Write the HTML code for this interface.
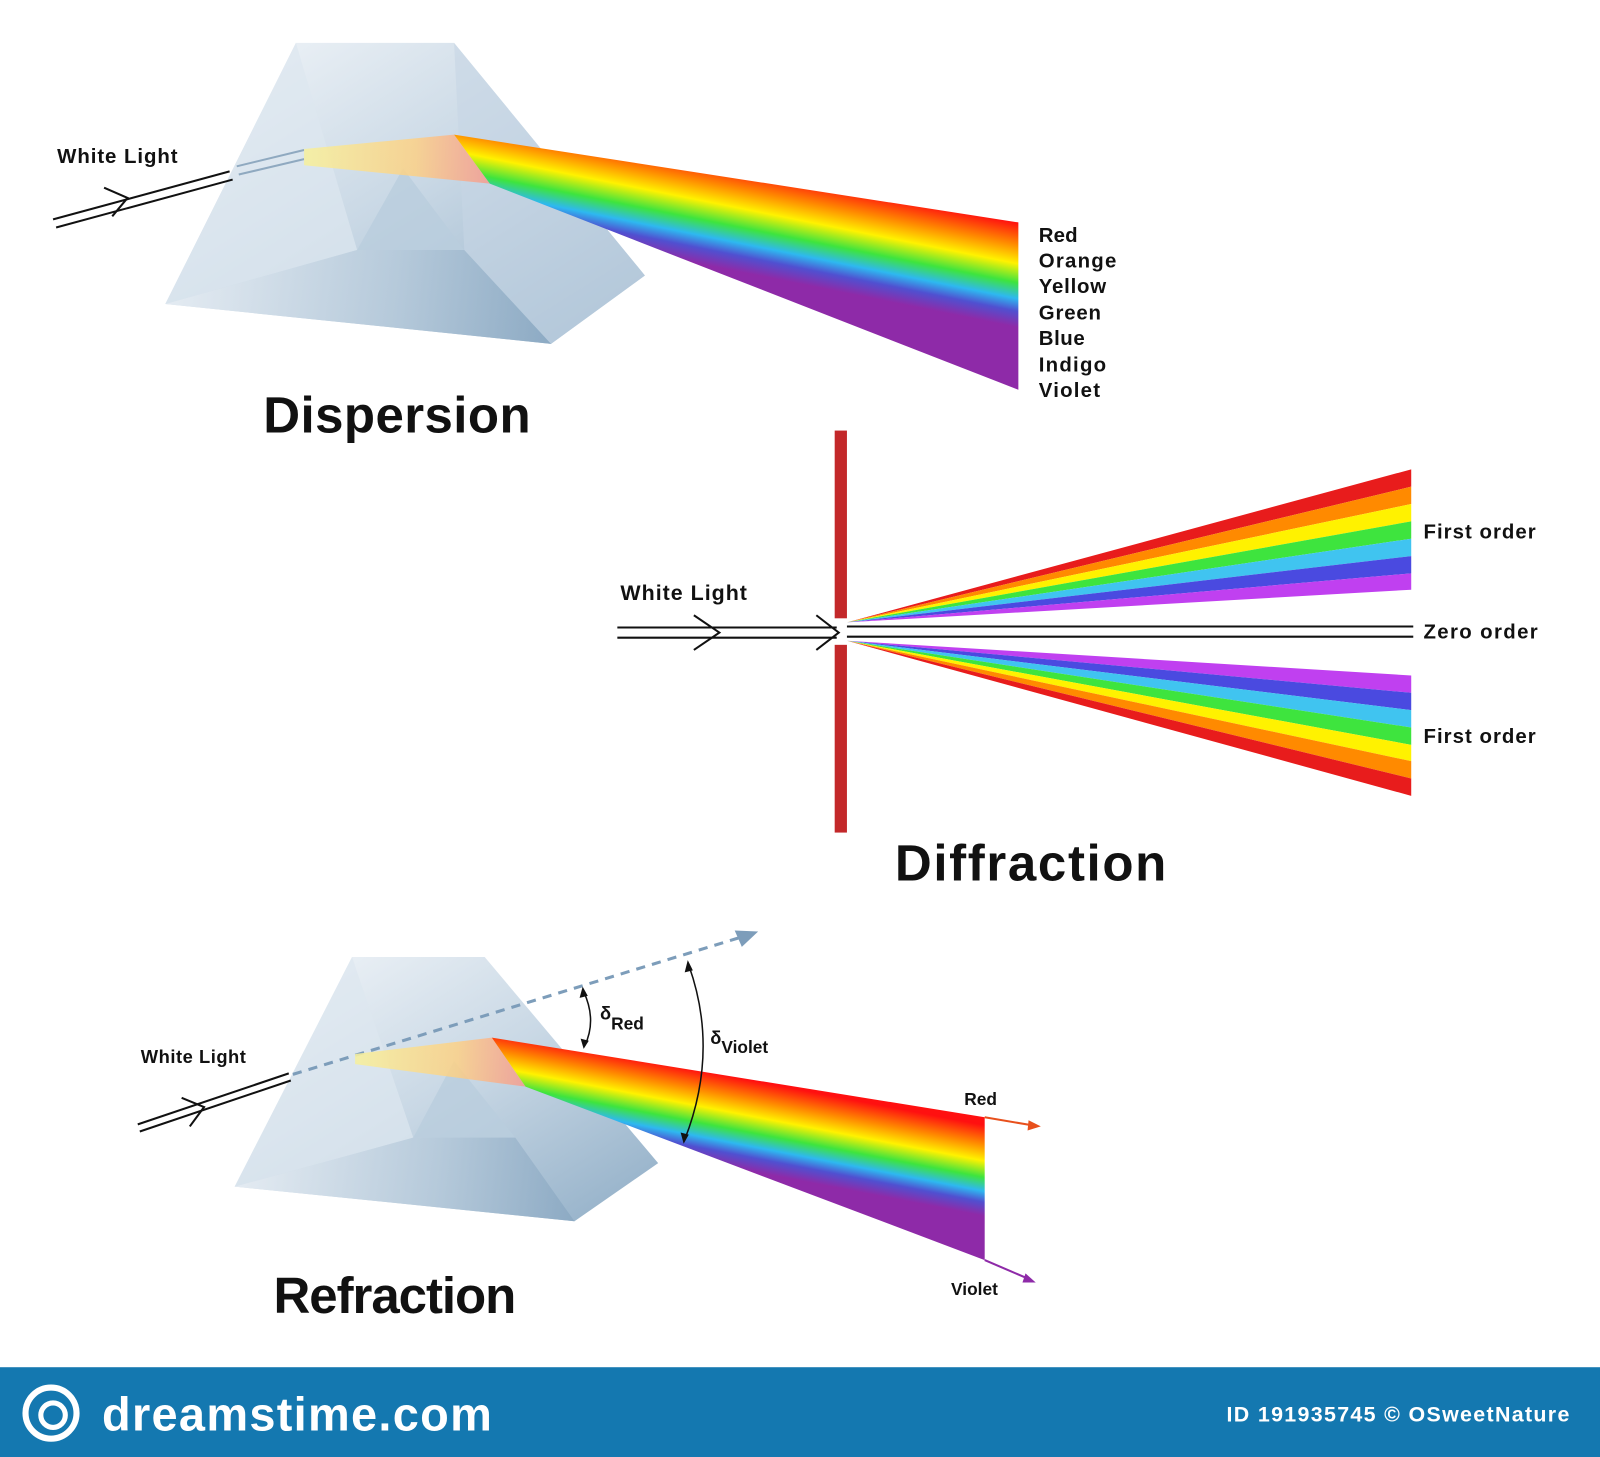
<!DOCTYPE html>
<html><head><meta charset="utf-8"><style>
html,body{margin:0;padding:0;background:#fff;width:1600px;height:1457px;overflow:hidden}
svg{display:block}
text{font-family:"Liberation Sans",sans-serif;font-weight:bold;fill:#111}
</style></head><body>
<svg width="1600" height="1457" viewBox="0 0 1568 1428" preserveAspectRatio="none" xmlns="http://www.w3.org/2000/svg">
<defs>
<linearGradient id="pr" x1="0" y1="0" x2="1" y2="1">
<stop offset="0" stop-color="#f4f7fa"/><stop offset="0.5" stop-color="#c9d8e5"/><stop offset="1" stop-color="#8fadc6"/>
</linearGradient>
<linearGradient id="pr2" x1="0" y1="0" x2="1" y2="0">
<stop offset="0" stop-color="#e8eef4"/><stop offset="0.6" stop-color="#b5c9da"/><stop offset="1" stop-color="#8aa8c2"/>
</linearGradient>
<linearGradient id="rb1" gradientUnits="userSpaceOnUse" x1="720" y1="150" x2="690" y2="300">
<stop offset="0.08" stop-color="#ff1010"/><stop offset="0.22" stop-color="#ff8a00"/><stop offset="0.34" stop-color="#fff200"/>
<stop offset="0.46" stop-color="#3ee43e"/><stop offset="0.56" stop-color="#2eb8f0"/><stop offset="0.64" stop-color="#5050d0"/><stop offset="0.74" stop-color="#8e2aa8"/><stop offset="1" stop-color="#8e2aa8"/>
</linearGradient>
<linearGradient id="rb3" gradientUnits="userSpaceOnUse" x1="720" y1="1045" x2="695" y2="1175">
<stop offset="0.08" stop-color="#ff1010"/><stop offset="0.22" stop-color="#ff8a00"/><stop offset="0.34" stop-color="#fff200"/>
<stop offset="0.46" stop-color="#3ee43e"/><stop offset="0.56" stop-color="#2eb8f0"/><stop offset="0.64" stop-color="#5050d0"/><stop offset="0.74" stop-color="#8e2aa8"/><stop offset="1" stop-color="#8e2aa8"/>
</linearGradient>
<linearGradient id="wb" x1="0" y1="0" x2="1" y2="0">
<stop offset="0" stop-color="#f5f0a0" stop-opacity="0.9"/><stop offset="0.6" stop-color="#ffd080" stop-opacity="0.8"/><stop offset="1" stop-color="#ff9080" stop-opacity="0.7"/>
</linearGradient>
</defs>

<polygon points="162,298 290,42 445,42 632,270 540,337" fill="url(#pr)"/>
<polygon points="162,298 290,42 350,245" fill="#dde7ef" opacity="0.7"/>
<polygon points="350,245 395,165 455,245" fill="#b9cddd" opacity="0.8"/>
<polygon points="350,245 455,245 540,337 162,298" fill="url(#pr2)" opacity="0.85"/>
<polygon points="445,42 632,270 540,337 455,245" fill="#c6d6e4" opacity="0.6"/>
<line x1="52" y1="215" x2="225" y2="168" stroke="#111" stroke-width="2"/>
<line x1="55" y1="223" x2="228" y2="176" stroke="#111" stroke-width="2"/>
<polyline points="102,184 125,194 110,212" fill="none" stroke="#111" stroke-width="2"/>
<line x1="232" y1="163" x2="298" y2="147" stroke="#8fa9c0" stroke-width="2"/>
<line x1="234" y1="171" x2="298" y2="156" stroke="#8fa9c0" stroke-width="2"/>
<polygon points="298,146 445,132 480,180 298,162" fill="url(#wb)"/>
<polygon points="445,132 998,218 998,382 480,180" fill="url(#rb1)"/>
<g font-size="20">
<text x="1018" y="237" textLength="38">Red</text><text x="1018" y="262" textLength="76">Orange</text><text x="1018" y="287" textLength="66">Yellow</text>
<text x="1018" y="313" textLength="61">Green</text><text x="1018" y="338" textLength="45">Blue</text><text x="1018" y="364" textLength="66">Indigo</text><text x="1018" y="389" textLength="60">Violet</text>
</g>
<text x="56" y="160" font-size="20" textLength="118">White Light</text>
<text x="258" y="424" font-size="50" textLength="262">Dispersion</text>

<g>
<polygon points="830,610 1383,460 1383,477 " fill="#e81c1c"/>
<polygon points="830,610 1383,477 1383,494" fill="#ff8a00"/>
<polygon points="830,610 1383,494 1383,511" fill="#fff200"/>
<polygon points="830,610 1383,511 1383,528" fill="#3ee43e"/>
<polygon points="830,610 1383,528 1383,545" fill="#40c4f0"/>
<polygon points="830,610 1383,545 1383,562" fill="#4a4ae0"/>
<polygon points="830,610 1383,562 1383,578" fill="#c040f0"/>
<polygon points="830,628 1383,662 1383,679" fill="#c040f0"/>
<polygon points="830,628 1383,679 1383,696" fill="#4a4ae0"/>
<polygon points="830,628 1383,696 1383,713" fill="#40c4f0"/>
<polygon points="830,628 1383,713 1383,730" fill="#3ee43e"/>
<polygon points="830,628 1383,730 1383,746" fill="#fff200"/>
<polygon points="830,628 1383,746 1383,763" fill="#ff8a00"/>
<polygon points="830,628 1383,763 1383,780" fill="#e81c1c"/>
</g>
<rect x="818" y="422" width="12" height="184" fill="#c3282a"/>
<rect x="818" y="632" width="12" height="184" fill="#c3282a"/>
<line x1="605" y1="615" x2="820" y2="615" stroke="#111" stroke-width="2"/>
<line x1="605" y1="625" x2="820" y2="625" stroke="#111" stroke-width="2"/>
<polyline points="680,603 705,620 680,637" fill="none" stroke="#111" stroke-width="2"/>
<polyline points="800,603 822,620 800,637" fill="none" stroke="#111" stroke-width="2"/>
<line x1="830" y1="614" x2="1385" y2="614" stroke="#111" stroke-width="2"/>
<line x1="830" y1="624" x2="1385" y2="624" stroke="#111" stroke-width="2"/>
<text x="608" y="588" font-size="21" textLength="124">White Light</text>
<g font-size="20">
<text x="1395" y="528" textLength="110">First order</text><text x="1395" y="626" textLength="112">Zero order</text><text x="1395" y="728" textLength="110">First order</text>
</g>
<text x="877" y="863" font-size="50" textLength="266">Diffraction</text>

<polygon points="230,1163 345,938 475,938 645,1140 563,1197" fill="url(#pr)"/>
<polygon points="230,1163 345,938 405,1115" fill="#dde7ef" opacity="0.7"/>
<polygon points="405,1115 445,1040 505,1115" fill="#b9cddd" opacity="0.8"/>
<polygon points="405,1115 505,1115 563,1197 230,1163" fill="url(#pr2)" opacity="0.85"/>
<line x1="135" y1="1102" x2="283" y2="1052" stroke="#111" stroke-width="2"/>
<line x1="137" y1="1109" x2="285" y2="1059" stroke="#111" stroke-width="2"/>
<polyline points="178,1076 200,1085 186,1104" fill="none" stroke="#111" stroke-width="2"/>
<line x1="287" y1="1053" x2="728" y2="918" stroke="#7d9dba" stroke-width="3" stroke-dasharray="9,7"/>
<polygon points="743,913 720,912 727,928" fill="#7d9dba"/>
<polygon points="348,1033 482,1017 515,1065 348,1043" fill="url(#wb)"/>
<polygon points="482,1017 965,1095 965,1235 515,1065" fill="url(#rb3)"/>
<line x1="965" y1="1095" x2="1012" y2="1103" stroke="#e8501c" stroke-width="2"/>
<polygon points="1020,1104 1008,1098 1007,1108" fill="#e8501c"/>
<line x1="965" y1="1235" x2="1007" y2="1253" stroke="#8e2aa8" stroke-width="2"/>
<polygon points="1015,1257 1005,1248 1002,1257" fill="#8e2aa8"/>
<path d="M572,972 Q585,1000 573,1025" fill="none" stroke="#111" stroke-width="1.5"/>
<polygon points="571,967 568,978 576,976" fill="#111"/>
<polygon points="572,1028 569,1018 577,1020" fill="#111"/>
<path d="M675,946 Q705,1030 671,1117" fill="none" stroke="#111" stroke-width="1.5"/>
<polygon points="674,941 671,953 679,951" fill="#111"/>
<polygon points="670,1121 667,1110 675,1112" fill="#111"/>
<text x="588" y="999" font-size="18">δ<tspan font-size="17" dy="10">Red</tspan></text>
<text x="696" y="1023" font-size="18">δ<tspan font-size="17" dy="9">Violet</tspan></text>
<text x="945" y="1083" font-size="17">Red</text>
<text x="932" y="1269" font-size="17">Violet</text>
<text x="138" y="1042" font-size="18" textLength="103">White Light</text>
<text x="268" y="1287" font-size="50" textLength="238">Refraction</text>

<rect x="0" y="1340" width="1568" height="88" fill="#1478b0"/>
<circle cx="50" cy="1385" r="25" fill="none" stroke="#fff" stroke-width="6"/>
<circle cx="52" cy="1387" r="12" fill="none" stroke="#fff" stroke-width="5"/>
<text x="100" y="1402" font-size="46" style="fill:#fff" textLength="382">dreamstime.com</text>
<text x="1538" y="1393" font-size="21" style="fill:#fff" text-anchor="end" textLength="336">ID 191935745 © OSweetNature</text>
</svg>
</body></html>
